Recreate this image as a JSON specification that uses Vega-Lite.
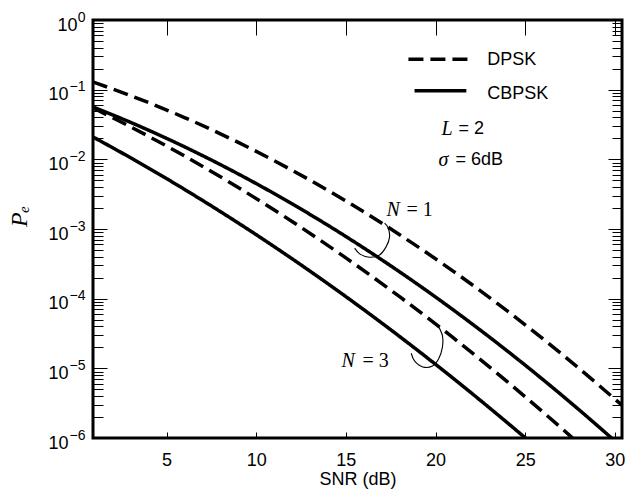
{
  "$schema": "https://vega.github.io/schema/vega-lite/v6.json",
  "width": 529,
  "height": 418,
  "autosize": {"type": "none"},
  "padding": {"left": 93, "top": 20, "right": 6, "bottom": 52},
  "background": "white",
  "config": {
    "view": {"stroke": "black", "strokeWidth": 3},
    "font": "Liberation Sans",
    "axis": {
      "domain": false,
      "grid": false,
      "tickColor": "black",
      "tickWidth": 1,
      "labelFont": "Liberation Sans",
      "labelFontSize": 18,
      "labelColor": "black",
      "labelOverlap": false,
      "labelFlush": false,
      "titleFont": "Liberation Sans",
      "titleFontSize": 18,
      "titleFontWeight": "normal",
      "titleColor": "black"
    }
  },
  "datasets": {
    "curves": [
      {"s": "DPSK N=1", "m": "DPSK", "x": 0.9, "y": 0.1288},
      {"s": "DPSK N=1", "m": "DPSK", "x": 3, "y": 0.08218},
      {"s": "DPSK N=1", "m": "DPSK", "x": 6, "y": 0.03981},
      {"s": "DPSK N=1", "m": "DPSK", "x": 9, "y": 0.01749},
      {"s": "DPSK N=1", "m": "DPSK", "x": 12, "y": 0.006976},
      {"s": "DPSK N=1", "m": "DPSK", "x": 15, "y": 0.002523},
      {"s": "DPSK N=1", "m": "DPSK", "x": 18, "y": 0.0008283},
      {"s": "DPSK N=1", "m": "DPSK", "x": 21, "y": 0.0002467},
      {"s": "DPSK N=1", "m": "DPSK", "x": 24, "y": 0.00006665},
      {"s": "DPSK N=1", "m": "DPSK", "x": 27, "y": 0.00001635},
      {"s": "DPSK N=1", "m": "DPSK", "x": 30.4, "y": 0.000002953},
      {"s": "CBPSK N=1", "m": "CBPSK", "x": 0.9, "y": 0.05649},
      {"s": "CBPSK N=1", "m": "CBPSK", "x": 3, "y": 0.0339},
      {"s": "CBPSK N=1", "m": "CBPSK", "x": 6, "y": 0.01514},
      {"s": "CBPSK N=1", "m": "CBPSK", "x": 9, "y": 0.006171},
      {"s": "CBPSK N=1", "m": "CBPSK", "x": 12, "y": 0.002297},
      {"s": "CBPSK N=1", "m": "CBPSK", "x": 15, "y": 0.0007807},
      {"s": "CBPSK N=1", "m": "CBPSK", "x": 18, "y": 0.0002424},
      {"s": "CBPSK N=1", "m": "CBPSK", "x": 21, "y": 0.00006869},
      {"s": "CBPSK N=1", "m": "CBPSK", "x": 24, "y": 0.00001778},
      {"s": "CBPSK N=1", "m": "CBPSK", "x": 27, "y": 0.000004201},
      {"s": "CBPSK N=1", "m": "CBPSK", "x": 29.8, "y": 0.000001007},
      {"s": "CBPSK N=1", "m": "CBPSK", "x": 30.1, "y": 0.00000086},
      {"s": "DPSK N=3", "m": "DPSK", "x": 0.9, "y": 0.0547},
      {"s": "DPSK N=3", "m": "DPSK", "x": 3, "y": 0.02925},
      {"s": "DPSK N=3", "m": "DPSK", "x": 6, "y": 0.01118},
      {"s": "DPSK N=3", "m": "DPSK", "x": 9, "y": 0.003939},
      {"s": "DPSK N=3", "m": "DPSK", "x": 12, "y": 0.001282},
      {"s": "DPSK N=3", "m": "DPSK", "x": 15, "y": 0.0003849},
      {"s": "DPSK N=3", "m": "DPSK", "x": 18, "y": 0.0001067},
      {"s": "DPSK N=3", "m": "DPSK", "x": 21, "y": 0.00002728},
      {"s": "DPSK N=3", "m": "DPSK", "x": 24, "y": 0.000006435},
      {"s": "DPSK N=3", "m": "DPSK", "x": 27, "y": 0.000001401},
      {"s": "DPSK N=3", "m": "DPSK", "x": 27.63, "y": 0.000001007},
      {"s": "DPSK N=3", "m": "DPSK", "x": 27.9, "y": 0.000000873},
      {"s": "CBPSK N=3", "m": "CBPSK", "x": 0.9, "y": 0.02094},
      {"s": "CBPSK N=3", "m": "CBPSK", "x": 3, "y": 0.010515},
      {"s": "CBPSK N=3", "m": "CBPSK", "x": 6, "y": 0.003707},
      {"s": "CBPSK N=3", "m": "CBPSK", "x": 9, "y": 0.001219},
      {"s": "CBPSK N=3", "m": "CBPSK", "x": 12, "y": 0.0003741},
      {"s": "CBPSK N=3", "m": "CBPSK", "x": 15, "y": 0.0001071},
      {"s": "CBPSK N=3", "m": "CBPSK", "x": 18, "y": 0.00002862},
      {"s": "CBPSK N=3", "m": "CBPSK", "x": 21, "y": 0.000007138},
      {"s": "CBPSK N=3", "m": "CBPSK", "x": 24, "y": 0.000001661},
      {"s": "CBPSK N=3", "m": "CBPSK", "x": 25.0, "y": 0.000001007},
      {"s": "CBPSK N=3", "m": "CBPSK", "x": 25.3, "y": 0.000000864},
      {"s": "legend DPSK", "m": "DPSK", "x": 18.49, "y": 0.2729},
      {"s": "legend DPSK", "m": "DPSK", "x": 21.89, "y": 0.2729},
      {"s": "legend CBPSK", "m": "CBPSK", "x": 18.83, "y": 0.09683},
      {"s": "legend CBPSK", "m": "CBPSK", "x": 21.72, "y": 0.09683}
    ],
    "arcs": [
      {"s": "N=1", "i": 0, "x": 15.49, "y": 0.0005309},
      {"s": "N=1", "i": 1, "x": 15.77, "y": 0.0004395},
      {"s": "N=1", "i": 2, "x": 16.32, "y": 0.0003936},
      {"s": "N=1", "i": 3, "x": 16.88, "y": 0.0004246},
      {"s": "N=1", "i": 4, "x": 17.25, "y": 0.0005585},
      {"s": "N=1", "i": 5, "x": 17.44, "y": 0.000778},
      {"s": "N=1", "i": 6, "x": 17.34, "y": 0.001062},
      {"s": "N=1", "i": 7, "x": 17.16, "y": 0.001211},
      {"s": "N=3", "i": 0, "x": 18.645, "y": 0.00001645},
      {"s": "N=3", "i": 1, "x": 18.83, "y": 0.00001276},
      {"s": "N=3", "i": 2, "x": 19.29, "y": 0.00001047},
      {"s": "N=3", "i": 3, "x": 19.83, "y": 0.00001081},
      {"s": "N=3", "i": 4, "x": 20.17, "y": 0.00001364},
      {"s": "N=3", "i": 5, "x": 20.39, "y": 0.00002028},
      {"s": "N=3", "i": 6, "x": 20.39, "y": 0.00002918},
      {"s": "N=3", "i": 7, "x": 20.15, "y": 0.0000407}
    ],
    "texts": [
      {"t": "DPSK", "k": "sans", "x": 22.89, "y": 0.2667},
      {"t": "CBPSK", "k": "sans", "x": 22.89, "y": 0.0867},
      {"t": "= 2", "k": "sans", "x": 21.28, "y": 0.02729},
      {"t": "= 6dB", "k": "sans", "x": 21.11, "y": 0.009795},
      {"t": "L", "k": "ital", "x": 20.33, "y": 0.02729},
      {"t": "σ", "k": "ital", "x": 20.17, "y": 0.009795},
      {"t": "N", "k": "ital", "x": 17.27, "y": 0.001879},
      {"t": "N", "k": "ital", "x": 14.76, "y": 0.00001294},
      {"t": "= 1", "k": "serif", "x": 18.38, "y": 0.001879},
      {"t": "= 3", "k": "serif", "x": 15.93, "y": 0.00001294}
    ]
  },
  "layer": [
    {
      "data": {"name": "curves"},
      "mark": {"type": "line", "interpolate": "monotone", "color": "black", "strokeWidth": 3.5, "clip": true},
      "encoding": {
        "x": {
          "field": "x", "type": "quantitative",
          "scale": {"domain": [0.9, 30.4], "nice": false, "zero": false},
          "axis": {"orient": "bottom", "values": [5, 10, 15, 20, 25, 30], "tickSize": -6, "labelPadding": 19, "title": "SNR (dB)", "titlePadding": 1}
        },
        "y": {
          "field": "y", "type": "quantitative",
          "scale": {"type": "log", "domain": [0.000001, 1], "nice": false},
          "axis": {
            "orient": "left",
            "values": [1e-6,2e-6,3e-6,4e-6,5e-6,6e-6,7e-6,8e-6,9e-6,1e-5,2e-5,3e-5,4e-5,5e-5,6e-5,7e-5,8e-5,9e-5,1e-4,2e-4,3e-4,4e-4,5e-4,6e-4,7e-4,8e-4,9e-4,1e-3,2e-3,3e-3,4e-3,5e-3,6e-3,7e-3,8e-3,9e-3,1e-2,2e-2,3e-2,4e-2,5e-2,6e-2,7e-2,8e-2,9e-2,1e-1,2e-1,3e-1,4e-1,5e-1,6e-1,7e-1,8e-1,9e-1,1],
            "tickSize": {"condition": {"test": "indexof([1,0.1,0.01,0.001,0.0001,0.00001,0.000001], datum.value) >= 0", "value": -14}, "value": -10},
            "labelPadding": {"condition": {"test": "datum.value == 1", "value": 30}, "value": 39},
            "labelOffset": 5,
            "labelAlign": "right",
            "labelBaseline": "middle",
            "labelExpr": "indexof([1,0.1,0.01,0.001,0.0001,0.00001,0.000001], datum.value) < 0 ? '' : '10'",
            "title": "Pₑ",
            "titleFont": "Liberation Serif",
            "titleFontStyle": "italic",
            "titleFontSize": 24,
            "titleAngle": -90,
            "titleAlign": "center",
            "titleBaseline": "bottom",
            "titleX": -62,
            "titleY": 196
          }
        },
        "detail": {"field": "s"},
        "strokeDash": {"field": "m", "type": "nominal", "scale": {"domain": ["DPSK", "CBPSK"], "range": [[15, 7], [1, 0]]}, "legend": null}
      }
    },
    {
      "data": {"name": "arcs"},
      "mark": {"type": "line", "interpolate": "catmull-rom", "color": "black", "strokeWidth": 1.1},
      "encoding": {
        "x": {
          "field": "x", "type": "quantitative",
          "scale": {"domain": [0.9, 30.4], "nice": false, "zero": false},
          "axis": {"orient": "top", "values": [5, 10, 15, 20, 25, 30], "tickSize": -15, "labels": false, "title": null}
        },
        "y": {
          "field": "y", "type": "quantitative",
          "scale": {"type": "log", "domain": [0.000001, 1], "nice": false},
          "axis": {
            "orient": "right",
            "values": [1e-6,2e-6,3e-6,4e-6,5e-6,6e-6,7e-6,8e-6,9e-6,1e-5,2e-5,3e-5,4e-5,5e-5,6e-5,7e-5,8e-5,9e-5,1e-4,2e-4,3e-4,4e-4,5e-4,6e-4,7e-4,8e-4,9e-4,1e-3,2e-3,3e-3,4e-3,5e-3,6e-3,7e-3,8e-3,9e-3,1e-2,2e-2,3e-2,4e-2,5e-2,6e-2,7e-2,8e-2,9e-2,1e-1,2e-1,3e-1,4e-1,5e-1,6e-1,7e-1,8e-1,9e-1,1],
            "tickSize": {"condition": {"test": "indexof([1,0.1,0.01,0.001,0.0001,0.00001,0.000001], datum.value) >= 0", "value": -14}, "value": -10},
            "labels": false,
            "title": null
          }
        },
        "detail": {"field": "s"},
        "order": {"field": "i", "type": "quantitative"}
      }
    },
    {
      "data": {"name": "texts"},
      "transform": [{"filter": "datum.k === 'sans'"}],
      "mark": {"type": "text", "align": "left", "baseline": "middle", "font": "Liberation Sans", "fontSize": 18, "color": "black"},
      "encoding": {
        "x": {"field": "x", "type": "quantitative", "scale": {"domain": [0.9, 30.4], "nice": false, "zero": false}, "axis": null},
        "y": {
          "field": "y", "type": "quantitative",
          "scale": {"type": "log", "domain": [0.000001, 1], "nice": false},
          "axis": {
            "orient": "left",
            "values": [1, 0.1, 0.01, 0.001, 0.0001, 0.00001, 0.000001],
            "ticks": false,
            "labelFontSize": 14,
            "labelPadding": 8,
            "labelOffset": -3,
            "labelAlign": "right",
            "labelBaseline": "middle",
            "labelExpr": "['0','−1','−2','−3','−4','−5','−6'][indexof([1,0.1,0.01,0.001,0.0001,0.00001,0.000001], datum.value)]",
            "title": null
          }
        },
        "text": {"field": "t"}
      }
    },
    {
      "data": {"name": "texts"},
      "transform": [{"filter": "datum.k === 'ital'"}],
      "mark": {"type": "text", "align": "left", "baseline": "middle", "font": "Liberation Serif", "fontStyle": "italic", "fontSize": 20, "color": "black"},
      "encoding": {
        "x": {"field": "x", "type": "quantitative", "scale": {"domain": [0.9, 30.4], "nice": false, "zero": false}, "axis": null},
        "y": {"field": "y", "type": "quantitative", "scale": {"type": "log", "domain": [0.000001, 1], "nice": false}, "axis": null},
        "text": {"field": "t"}
      }
    },
    {
      "data": {"name": "texts"},
      "transform": [{"filter": "datum.k === 'serif'"}],
      "mark": {"type": "text", "align": "left", "baseline": "middle", "font": "Liberation Serif", "fontSize": 20, "color": "black"},
      "encoding": {
        "x": {"field": "x", "type": "quantitative", "scale": {"domain": [0.9, 30.4], "nice": false, "zero": false}, "axis": null},
        "y": {"field": "y", "type": "quantitative", "scale": {"type": "log", "domain": [0.000001, 1], "nice": false}, "axis": null},
        "text": {"field": "t"}
      }
    }
  ],
  "resolve": {"axis": {"x": "independent", "y": "independent"}}
}
